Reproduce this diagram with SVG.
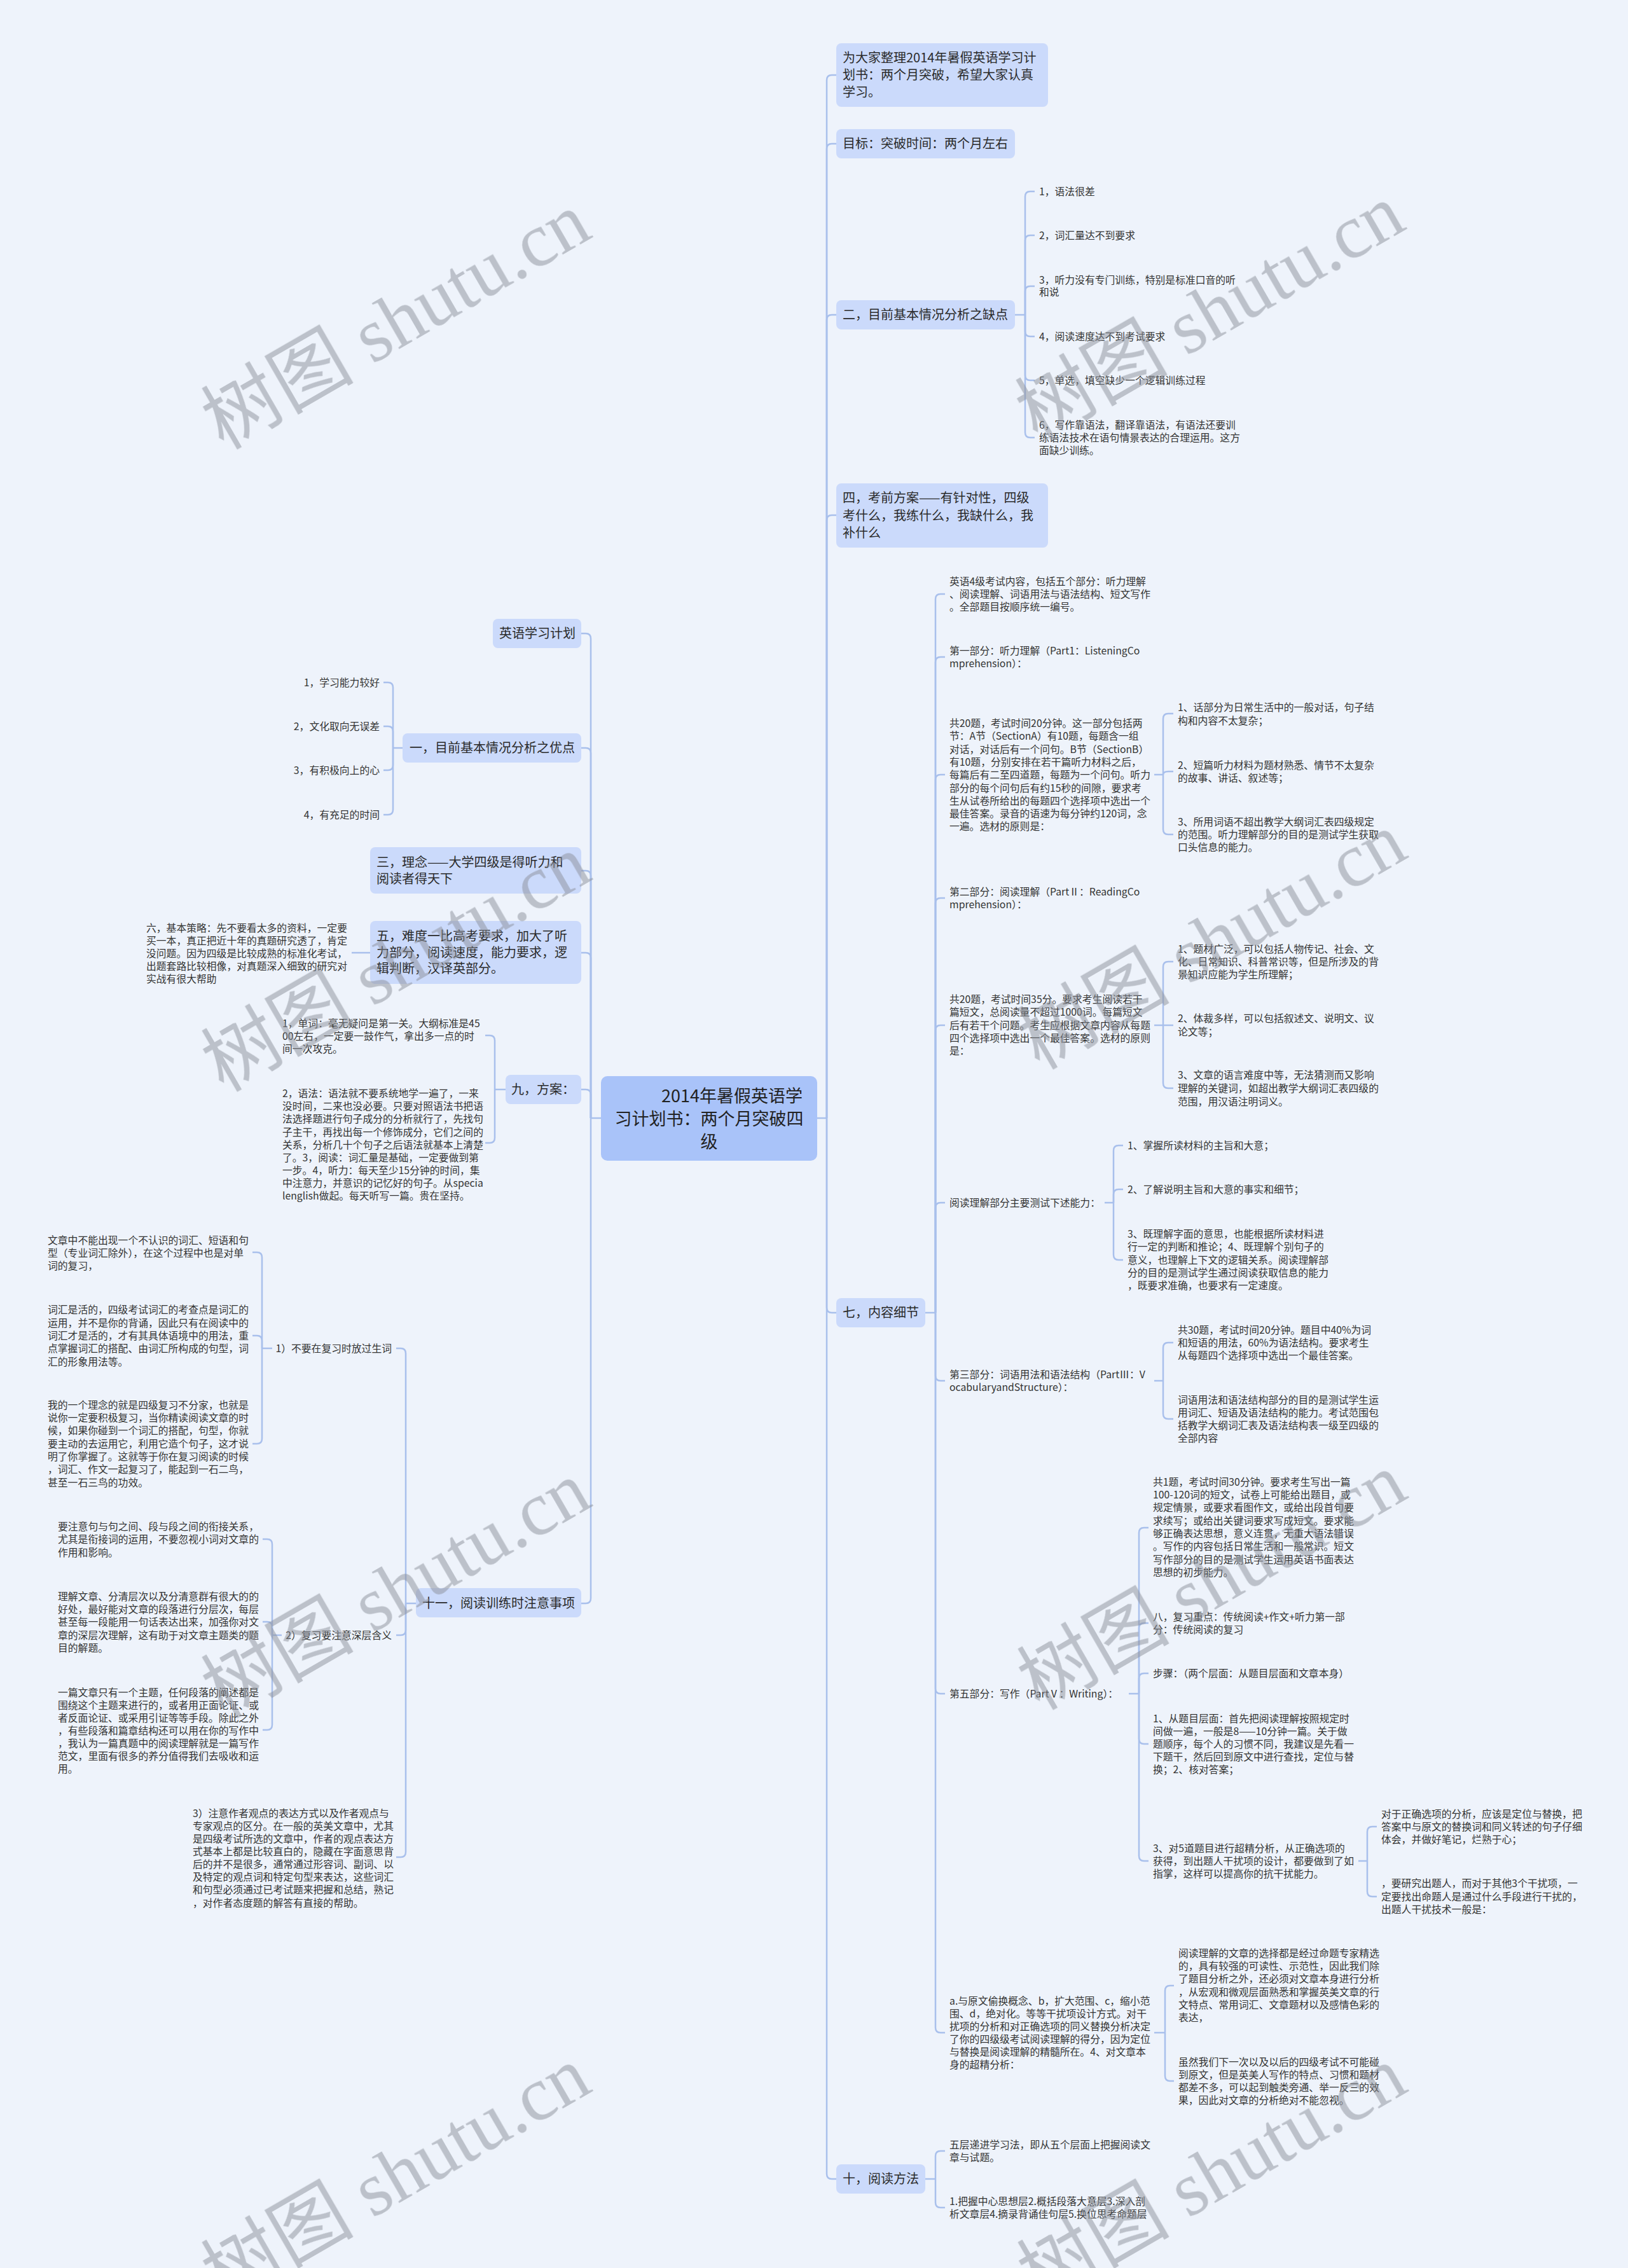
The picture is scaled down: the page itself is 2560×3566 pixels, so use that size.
<svg xmlns="http://www.w3.org/2000/svg" width="2560" height="3566" viewBox="0 0 2560 3566">
<style>
.t{font-family:"Noto Sans CJK SC","Noto Sans",sans-serif;fill:#333333}
.s{font-size:15.8px}
.m{font-size:20px;fill:#2a2a2a}
.big{font-size:27px;fill:#222222}
.n1{fill:#cbdafb}
.n0{fill:#a9c3f9}
.cn{fill:none;stroke:#a9c0ec;stroke-width:2.5}
.wm{font-family:"Liberation Serif","Noto Sans CJK SC",serif;font-size:120px;fill:#8a8f99;opacity:0.5}
</style>
<rect width="2560" height="3566" fill="#eef3fb"/>

<g id="connectors" class="cn">
<!-- right trunk -->
<path d="M1285,1758 H1300"/>
<path d="M1300,1758 V126 Q1300,118 1308,118 H1315"/>
<path d="M1300,1758 V234 Q1300,226 1308,226 H1315"/>
<path d="M1300,1758 V503 Q1300,495 1308,495 H1315"/>
<path d="M1300,1758 V818 Q1300,810 1308,810 H1315"/>
<path d="M1300,1758 V2056 Q1300,2064 1308,2064 H1315"/>
<path d="M1300,1758 V3418 Q1300,3426 1308,3426 H1315"/>
<!-- 二 -->
<path d="M1596,495 H1612"/>
<path d="M1612,495 V309 Q1612,301 1620,301 H1627"/>
<path d="M1612,495 V378 Q1612,370 1620,370 H1627"/>
<path d="M1612,495 V458 Q1612,450 1620,450 H1627"/>
<path d="M1612,495 V521 Q1612,529 1620,529 H1627"/>
<path d="M1612,495 V590 Q1612,598 1620,598 H1627"/>
<path d="M1612,495 V680 Q1612,688 1620,688 H1627"/>
<!-- 七 -->
<path d="M1455,2064 H1471"/>
<path d="M1471,2064 V942 Q1471,934 1479,934 H1486"/>
<path d="M1471,2064 V1041 Q1471,1033 1479,1033 H1486"/>
<path d="M1471,2064 V1226 Q1471,1218 1479,1218 H1486"/>
<path d="M1471,2064 V1420 Q1471,1412 1479,1412 H1486"/>
<path d="M1471,2064 V1620 Q1471,1612 1479,1612 H1486"/>
<path d="M1471,2064 V1899 Q1471,1891 1479,1891 H1486"/>
<path d="M1471,2064 V2163 Q1471,2171 1479,2171 H1486"/>
<path d="M1471,2064 V2655 Q1471,2663 1479,2663 H1486"/>
<path d="M1471,2064 V3188 Q1471,3196 1479,3196 H1486"/>
<!-- c listening -->
<path d="M1815,1218 H1829"/>
<path d="M1829,1218 V1130 Q1829,1122 1837,1122 H1845"/>
<path d="M1829,1218 Q1829,1213 1837,1213 H1845"/>
<path d="M1829,1218 V1304 Q1829,1312 1837,1312 H1845"/>
<!-- e reading -->
<path d="M1815,1612 H1829"/>
<path d="M1829,1612 V1520 Q1829,1512 1837,1512 H1845"/>
<path d="M1829,1612 H1845"/>
<path d="M1829,1612 V1703 Q1829,1711 1837,1711 H1845"/>
<!-- f abilities -->
<path d="M1737,1891 H1751"/>
<path d="M1751,1891 V1809 Q1751,1801 1759,1801 H1766"/>
<path d="M1751,1891 V1878 Q1751,1870 1759,1870 H1766"/>
<path d="M1751,1891 V1973 Q1751,1981 1759,1981 H1766"/>
<!-- g vocabulary -->
<path d="M1815,2171 H1829"/>
<path d="M1829,2171 V2119 Q1829,2111 1837,2111 H1845"/>
<path d="M1829,2171 V2223 Q1829,2231 1837,2231 H1845"/>
<!-- h writing -->
<path d="M1775,2663 H1791"/>
<path d="M1791,2663 V2410 Q1791,2402 1799,2402 H1806"/>
<path d="M1791,2663 V2560 Q1791,2552 1799,2552 H1806"/>
<path d="M1791,2663 V2639 Q1791,2631 1799,2631 H1806"/>
<path d="M1791,2663 V2734 Q1791,2742 1799,2742 H1806"/>
<path d="M1791,2663 V2918 Q1791,2926 1799,2926 H1806"/>
<!-- h5 -->
<path d="M2136,2926 H2150"/>
<path d="M2150,2926 V2880 Q2150,2872 2158,2872 H2165"/>
<path d="M2150,2926 V2974 Q2150,2982 2158,2982 H2165"/>
<!-- i -->
<path d="M1815,3196 H1832"/>
<path d="M1832,3196 V3130 Q1832,3122 1840,3122 H1846"/>
<path d="M1832,3196 V3264 Q1832,3272 1840,3272 H1846"/>
<!-- 十 -->
<path d="M1455,3426 H1471"/>
<path d="M1471,3426 V3390 Q1471,3382 1479,3382 H1486"/>
<path d="M1471,3426 V3463 Q1471,3471 1479,3471 H1486"/>
<!-- left trunk -->
<path d="M945,1758 H929"/>
<path d="M929,1758 V1004 Q929,996 921,996 H914"/>
<path d="M929,1758 V1184 Q929,1176 921,1176 H914"/>
<path d="M929,1758 V1377 Q929,1369 921,1369 H914"/>
<path d="M929,1758 V1506 Q929,1498 921,1498 H914"/>
<path d="M929,1758 V1721 Q929,1713 921,1713 H914"/>
<path d="M929,1758 V2513 Q929,2521 921,2521 H914"/>
<!-- 一 -->
<path d="M633,1176 H618"/>
<path d="M618,1176 V1081 Q618,1073 610,1073 H603"/>
<path d="M618,1176 V1150 Q618,1142 610,1142 H603"/>
<path d="M618,1176 V1203 Q618,1211 610,1211 H603"/>
<path d="M618,1176 V1273 Q618,1281 610,1281 H603"/>
<!-- 五 -> 六 -->
<path d="M582,1498 H553"/>
<!-- 九 -->
<path d="M795,1713 H778"/>
<path d="M778,1713 V1636 Q778,1628 770,1628 H763"/>
<path d="M778,1713 V1789 Q778,1797 770,1797 H763"/>
<!-- 十一 -->
<path d="M654,2521 H638"/>
<path d="M638,2521 V2128 Q638,2120 630,2120 H623"/>
<path d="M638,2521 V2563 Q638,2571 630,2571 H623"/>
<path d="M638,2521 V2912 Q638,2920 630,2920 H623"/>
<!-- 1) -->
<path d="M428,2120 H412"/>
<path d="M412,2120 V1977 Q412,1969 404,1969 H397"/>
<path d="M412,2120 V2108 Q412,2100 404,2100 H397"/>
<path d="M412,2120 V2262 Q412,2270 404,2270 H397"/>
<!-- 2) -->
<path d="M443,2571 H428"/>
<path d="M428,2571 V2428 Q428,2420 420,2420 H413"/>
<path d="M428,2571 V2558 Q428,2550 420,2550 H413"/>
<path d="M428,2571 V2712 Q428,2720 420,2720 H413"/>
</g>

<g id="root">
<rect class="n0" x="945" y="1692" width="340" height="133" rx="10"/>
<text class="t big"><tspan x="1262" y="1733" text-anchor="end">2014年暑假英语学</tspan><tspan x="1115" y="1769" text-anchor="middle">习计划书：两个月突破四</tspan><tspan x="1115" y="1805" text-anchor="middle">级</tspan></text>
</g>

<g id="r1">
<rect class="n1" x="1315" y="68" width="333" height="100" rx="8"/>
<text class="t m"><tspan x="1325" y="98">为大家整理2014年暑假英语学习计</tspan><tspan x="1325" y="125">划书：两个月突破，希望大家认真</tspan><tspan x="1325" y="152">学习。</tspan></text>
</g>
<g id="r2">
<rect class="n1" x="1315" y="203" width="281" height="46" rx="8"/>
<text class="t m" x="1325" y="233">目标：突破时间：两个月左右</text>
</g>
<g id="r3">
<rect class="n1" x="1315" y="472" width="281" height="46" rx="8"/>
<text class="t m" x="1325" y="502">二，目前基本情况分析之缺点</text>
</g>
<g id="r3-children" class="t s">
<text x="1634" y="307">1，语法很差</text>
<text x="1634" y="376">2，词汇量达不到要求</text>
<text><tspan x="1634" y="446">3，听力没有专门训练，特别是标准口音的听</tspan><tspan x="1634" y="465">和说</tspan></text>
<text x="1634" y="535">4，阅读速度达不到考试要求</text>
<text x="1634" y="604">5，单选，填空缺少一个逻辑训练过程</text>
<text><tspan x="1634" y="674">6，写作靠语法，翻译靠语法，有语法还要训</tspan><tspan x="1634" y="694">练语法技术在语句情景表达的合理运用。这方</tspan><tspan x="1634" y="714">面缺少训练。</tspan></text>
</g>
<g id="r4">
<rect class="n1" x="1315" y="760" width="333" height="101" rx="8"/>
<text class="t m"><tspan x="1325" y="790">四，考前方案——有针对性，四级</tspan><tspan x="1325" y="818">考什么，我练什么，我缺什么，我</tspan><tspan x="1325" y="845">补什么</tspan></text>
</g>
<g id="r5">
<rect class="n1" x="1315" y="2041" width="140" height="46" rx="8"/>
<text class="t m" x="1325" y="2071">七，内容细节</text>
</g>
<g id="r5-children" class="t s">
<text><tspan x="1493" y="920">英语4级考试内容，包括五个部分：听力理解</tspan><tspan x="1493" y="940">、阅读理解、词语用法与语法结构、短文写作</tspan><tspan x="1493" y="960">。全部题目按顺序统一编号。</tspan></text>
<text><tspan x="1493" y="1029">第一部分：听力理解（Part1：ListeningCo</tspan><tspan x="1493" y="1049">mprehension）：</tspan></text>
<text><tspan x="1493" y="1143">共20题，考试时间20分钟。这一部分包括两</tspan><tspan x="1493" y="1163">节：A节（SectionA）有10题，每题含一组</tspan><tspan x="1493" y="1184">对话，对话后有一个问句。B节（SectionB）</tspan><tspan x="1493" y="1204">有10题，分别安排在若干篇听力材料之后，</tspan><tspan x="1493" y="1224">每篇后有二至四道题，每题为一个问句。听力</tspan><tspan x="1493" y="1245">部分的每个问句后有约15秒的间隙，要求考</tspan><tspan x="1493" y="1265">生从试卷所给出的每题四个选择项中选出一个</tspan><tspan x="1493" y="1285">最佳答案。录音的语速为每分钟约120词，念</tspan><tspan x="1493" y="1305">一遍。选材的原则是：</tspan></text>
<text><tspan x="1852" y="1118">1、话部分为日常生活中的一般对话，句子结</tspan><tspan x="1852" y="1139">构和内容不太复杂；</tspan></text>
<text><tspan x="1852" y="1209">2、短篇听力材料为题材熟悉、情节不太复杂</tspan><tspan x="1852" y="1229">的故事、讲话、叙述等；</tspan></text>
<text><tspan x="1852" y="1298">3、所用词语不超出教学大纲词汇表四级规定</tspan><tspan x="1852" y="1318">的范围。听力理解部分的目的是测试学生获取</tspan><tspan x="1852" y="1338">口头信息的能力。</tspan></text>
<text><tspan x="1493" y="1408">第二部分：阅读理解（PartⅡ：ReadingCo</tspan><tspan x="1493" y="1428">mprehension）：</tspan></text>
<text><tspan x="1493" y="1577">共20题，考试时间35分。要求考生阅读若干</tspan><tspan x="1493" y="1597">篇短文，总阅读量不超过1000词。每篇短文</tspan><tspan x="1493" y="1618">后有若干个问题。考生应根据文章内容从每题</tspan><tspan x="1493" y="1638">四个选择项中选出一个最佳答案。选材的原则</tspan><tspan x="1493" y="1658">是：</tspan></text>
<text><tspan x="1852" y="1498">1、题材广泛，可以包括人物传记、社会、文</tspan><tspan x="1852" y="1518">化、日常知识、科普常识等，但是所涉及的背</tspan><tspan x="1852" y="1538">景知识应能为学生所理解；</tspan></text>
<text><tspan x="1852" y="1607">2、体裁多样，可以包括叙述文、说明文、议</tspan><tspan x="1852" y="1628">论文等；</tspan></text>
<text><tspan x="1852" y="1696">3、文章的语言难度中等，无法猜测而又影响</tspan><tspan x="1852" y="1717">理解的关键词，如超出教学大纲词汇表四级的</tspan><tspan x="1852" y="1738">范围，用汉语注明词义。</tspan></text>
<text x="1493" y="1897">阅读理解部分主要测试下述能力：</text>
<text x="1773" y="1807">1、掌握所读材料的主旨和大意；</text>
<text x="1773" y="1876">2、了解说明主旨和大意的事实和细节；</text>
<text><tspan x="1773" y="1946">3、既理解字面的意思，也能根据所读材料进</tspan><tspan x="1773" y="1966">行一定的判断和推论；4、既理解个别句子的</tspan><tspan x="1773" y="1987">意义，也理解上下文的逻辑关系。阅读理解部</tspan><tspan x="1773" y="2007">分的目的是测试学生通过阅读获取信息的能力</tspan><tspan x="1773" y="2027">，既要求准确，也要求有一定速度。</tspan></text>
<text><tspan x="1493" y="2167">第三部分：词语用法和语法结构（PartⅢ：V</tspan><tspan x="1493" y="2187">ocabularyandStructure）：</tspan></text>
<text><tspan x="1852" y="2097">共30题，考试时间20分钟。题目中40%为词</tspan><tspan x="1852" y="2117">和短语的用法，60%为语法结构。要求考生</tspan><tspan x="1852" y="2137">从每题四个选择项中选出一个最佳答案。</tspan></text>
<text><tspan x="1852" y="2207">词语用法和语法结构部分的目的是测试学生运</tspan><tspan x="1852" y="2227">用词汇、短语及语法结构的能力。考试范围包</tspan><tspan x="1852" y="2247">括教学大纲词汇表及语法结构表一级至四级的</tspan><tspan x="1852" y="2267">全部内容</tspan></text>
<text x="1493" y="2669">第五部分：写作（PartⅤ：Writing）：</text>
<text><tspan x="1813" y="2336">共1题，考试时间30分钟。要求考生写出一篇</tspan><tspan x="1813" y="2356">100-120词的短文，试卷上可能给出题目，或</tspan><tspan x="1813" y="2376">规定情景，或要求看图作文，或给出段首句要</tspan><tspan x="1813" y="2397">求续写；或给出关键词要求写成短文。要求能</tspan><tspan x="1813" y="2417">够正确表达思想，意义连贯，无重大语法错误</tspan><tspan x="1813" y="2437">。写作的内容包括日常生活和一般常识。短文</tspan><tspan x="1813" y="2458">写作部分的目的是测试学生运用英语书面表达</tspan><tspan x="1813" y="2478">思想的初步能力。</tspan></text>
<text><tspan x="1813" y="2548">八，复习重点：传统阅读+作文+听力第一部</tspan><tspan x="1813" y="2568">分：传统阅读的复习</tspan></text>
<text x="1813" y="2637">步骤：（两个层面：从题目层面和文章本身）</text>
<text><tspan x="1813" y="2708">1、从题目层面：首先把阅读理解按照规定时</tspan><tspan x="1813" y="2728">间做一遍，一般是8——10分钟一篇。关于做</tspan><tspan x="1813" y="2748">题顺序，每个人的习惯不同，我建议是先看一</tspan><tspan x="1813" y="2768">下题干，然后回到原文中进行查找，定位与替</tspan><tspan x="1813" y="2788">换；2、核对答案；</tspan></text>
<text><tspan x="1813" y="2912">3、对5道题目进行超精分析，从正确选项的</tspan><tspan x="1813" y="2932">获得，到出题人干扰项的设计，都要做到了如</tspan><tspan x="1813" y="2952">指掌，这样可以提高你的抗干扰能力。</tspan></text>
<text><tspan x="2172" y="2858">对于正确选项的分析，应该是定位与替换，把</tspan><tspan x="2172" y="2878">答案中与原文的替换词和同义转述的句子仔细</tspan><tspan x="2172" y="2898">体会，并做好笔记，烂熟于心；</tspan></text>
<text><tspan x="2172" y="2967">，要研究出题人，而对于其他3个干扰项，一</tspan><tspan x="2172" y="2988">定要找出命题人是通过什么手段进行干扰的，</tspan><tspan x="2172" y="3008">出题人干扰技术一般是：</tspan></text>
<text><tspan x="1493" y="3152">a.与原文偷换概念、b，扩大范围、c，缩小范</tspan><tspan x="1493" y="3172">围、d，绝对化。等等干扰项设计方式。对干</tspan><tspan x="1493" y="3192">扰项的分析和对正确选项的同义替换分析决定</tspan><tspan x="1493" y="3212">了你的四级级考试阅读理解的得分，因为定位</tspan><tspan x="1493" y="3232">与替换是阅读理解的精髓所在。4、对文章本</tspan><tspan x="1493" y="3252">身的超精分析：</tspan></text>
<text><tspan x="1853" y="3077">阅读理解的文章的选择都是经过命题专家精选</tspan><tspan x="1853" y="3097">的，具有较强的可读性、示范性，因此我们除</tspan><tspan x="1853" y="3117">了题目分析之外，还必须对文章本身进行分析</tspan><tspan x="1853" y="3138">，从宏观和微观层面熟悉和掌握英美文章的行</tspan><tspan x="1853" y="3158">文特点、常用词汇、文章题材以及感情色彩的</tspan><tspan x="1853" y="3178">表达，</tspan></text>
<text><tspan x="1853" y="3248">虽然我们下一次以及以后的四级考试不可能碰</tspan><tspan x="1853" y="3268">到原文，但是英美人写作的特点、习惯和题材</tspan><tspan x="1853" y="3288">都差不多，可以起到触类旁通、举一反三的效</tspan><tspan x="1853" y="3308">果，因此对文章的分析绝对不能忽视。</tspan></text>
</g>
<g id="r6">
<rect class="n1" x="1315" y="3403" width="140" height="46" rx="8"/>
<text class="t m" x="1325" y="3433">十，阅读方法</text>
</g>
<g id="r6-children" class="t s">
<text><tspan x="1493" y="3378">五层递进学习法，即从五个层面上把握阅读文</tspan><tspan x="1493" y="3398">章与试题。</tspan></text>
<text><tspan x="1493" y="3467">1.把握中心思想层2.概括段落大意层3.深入剖</tspan><tspan x="1493" y="3487">析文章层4.摘录背诵佳句层5.换位思考命题层</tspan></text>
</g>

<g id="l1">
<rect class="n1" x="775" y="973" width="139" height="46" rx="8"/>
<text class="t m" x="785" y="1003">英语学习计划</text>
</g>
<g id="l2">
<rect class="n1" x="633" y="1153" width="281" height="46" rx="8"/>
<text class="t m" x="644" y="1183">一，目前基本情况分析之优点</text>
</g>
<g id="l2-children" class="t s" text-anchor="end">
<text x="597" y="1079">1，学习能力较好</text>
<text x="597" y="1148">2，文化取向无误差</text>
<text x="597" y="1217">3，有积极向上的心</text>
<text x="597" y="1287">4，有充足的时间</text>
</g>
<g id="l3">
<rect class="n1" x="582" y="1332" width="332" height="73" rx="8"/>
<text class="t m"><tspan x="592" y="1363">三，理念——大学四级是得听力和</tspan><tspan x="592" y="1389">阅读者得天下</tspan></text>
</g>
<g id="l4">
<rect class="n1" x="582" y="1448" width="332" height="99" rx="8"/>
<text class="t m"><tspan x="592" y="1479">五，难度一比高考要求，加大了听</tspan><tspan x="592" y="1505">力部分，阅读速度，能力要求，逻</tspan><tspan x="592" y="1530">辑判断，汉译英部分。</tspan></text>
</g>
<g id="l4-child" class="t s">
<text><tspan x="230" y="1465">六，基本策略：先不要看太多的资料，一定要</tspan><tspan x="230" y="1485">买一本，真正把近十年的真题研究透了，肯定</tspan><tspan x="230" y="1505">没问题。因为四级是比较成熟的标准化考试，</tspan><tspan x="230" y="1525">出题套路比较相像，对真题深入细致的研究对</tspan><tspan x="230" y="1545">实战有很大帮助</tspan></text>
</g>
<g id="l5">
<rect class="n1" x="795" y="1690" width="119" height="46" rx="8"/>
<text class="t m" x="804" y="1720">九，方案：</text>
</g>
<g id="l5-children" class="t s">
<text><tspan x="444" y="1615">1，单词：毫无疑问是第一关。大纲标准是45</tspan><tspan x="444" y="1635">00左右，一定要一鼓作气，拿出多一点的时</tspan><tspan x="444" y="1655">间一次攻克。</tspan></text>
<text><tspan x="444" y="1725">2，语法：语法就不要系统地学一遍了，一来</tspan><tspan x="444" y="1745">没时间，二来也没必要。只要对照语法书把语</tspan><tspan x="444" y="1765">法选择题进行句子成分的分析就行了，先找句</tspan><tspan x="444" y="1786">子主干，再找出每一个修饰成分，它们之间的</tspan><tspan x="444" y="1806">关系，分析几十个句子之后语法就基本上清楚</tspan><tspan x="444" y="1826">了。3，阅读：词汇量是基础，一定要做到第</tspan><tspan x="444" y="1846">一步。4，听力：每天至少15分钟的时间，集</tspan><tspan x="444" y="1866">中注意力，并意识的记忆好的句子。从specia</tspan><tspan x="444" y="1886">lenglish做起。每天听写一篇。贵在坚持。</tspan></text>
</g>
<g id="l6">
<rect class="n1" x="654" y="2497" width="260" height="46" rx="8"/>
<text class="t m" x="664" y="2528">十一，阅读训练时注意事项</text>
</g>
<g id="l6-children" class="t s">
<text x="616" y="2126" text-anchor="end">1）不要在复习时放过生词</text>
<text x="616" y="2577" text-anchor="end">2）复习要注意深层含义</text>
<text><tspan x="303" y="2857">3）注意作者观点的表达方式以及作者观点与</tspan><tspan x="303" y="2877">专家观点的区分。在一般的英美文章中，尤其</tspan><tspan x="303" y="2897">是四级考试所选的文章中，作者的观点表达方</tspan><tspan x="303" y="2917">式基本上都是比较直白的，隐藏在字面意思背</tspan><tspan x="303" y="2937">后的并不是很多，通常通过形容词、副词、以</tspan><tspan x="303" y="2957">及特定的观点词和特定句型来表达，这些词汇</tspan><tspan x="303" y="2977">和句型必须通过已考试题来把握和总结，熟记</tspan><tspan x="303" y="2998">，对作者态度题的解答有直接的帮助。</tspan></text>
<text><tspan x="75" y="1956">文章中不能出现一个不认识的词汇、短语和句</tspan><tspan x="75" y="1976">型（专业词汇除外），在这个过程中也是对单</tspan><tspan x="75" y="1996">词的复习，</tspan></text>
<text><tspan x="75" y="2065">词汇是活的，四级考试词汇的考查点是词汇的</tspan><tspan x="75" y="2086">运用，并不是你的背诵，因此只有在阅读中的</tspan><tspan x="75" y="2106">词汇才是活的，才有其具体语境中的用法，重</tspan><tspan x="75" y="2126">点掌握词汇的搭配、由词汇所构成的句型，词</tspan><tspan x="75" y="2147">汇的形象用法等。</tspan></text>
<text><tspan x="75" y="2215">我的一个理念的就是四级复习不分家，也就是</tspan><tspan x="75" y="2235">说你一定要积极复习，当你精读阅读文章的时</tspan><tspan x="75" y="2255">候，如果你碰到一个词汇的搭配，句型，你就</tspan><tspan x="75" y="2276">要主动的去运用它，利用它造个句子，这才说</tspan><tspan x="75" y="2296">明了你掌握了。这就等于你在复习阅读的时候</tspan><tspan x="75" y="2316">，词汇、作文一起复习了，能起到一石二鸟，</tspan><tspan x="75" y="2337">甚至一石三鸟的功效。</tspan></text>
<text><tspan x="91" y="2406">要注意句与句之间、段与段之间的衔接关系，</tspan><tspan x="91" y="2426">尤其是衔接词的运用，不要忽视小词对文章的</tspan><tspan x="91" y="2447">作用和影响。</tspan></text>
<text><tspan x="91" y="2516">理解文章、分清层次以及分清意群有很大的的</tspan><tspan x="91" y="2536">好处，最好能对文章的段落进行分层次，每层</tspan><tspan x="91" y="2556">甚至每一段能用一句话表达出来，加强你对文</tspan><tspan x="91" y="2577">章的深层次理解，这有助于对文章主题类的题</tspan><tspan x="91" y="2597">目的解题。</tspan></text>
<text><tspan x="91" y="2667">一篇文章只有一个主题，任何段落的阐述都是</tspan><tspan x="91" y="2687">围绕这个主题来进行的，或者用正面论证、或</tspan><tspan x="91" y="2707">者反面论证、或采用引证等等手段。除此之外</tspan><tspan x="91" y="2727">，有些段落和篇章结构还可以用在你的写作中</tspan><tspan x="91" y="2747">，我认为一篇真题中的阅读理解就是一篇写作</tspan><tspan x="91" y="2767">范文，里面有很多的养分值得我们去吸收和运</tspan><tspan x="91" y="2787">用。</tspan></text>
</g>

<g id="watermark" class="wm" text-anchor="middle">
<text transform="translate(643,540) rotate(-30)">树图 shutu.cn</text>
<text transform="translate(1923,527) rotate(-30)">树图 shutu.cn</text>
<text transform="translate(643,1550) rotate(-30)">树图 shutu.cn</text>
<text transform="translate(1926,1515) rotate(-30)">树图 shutu.cn</text>
<text transform="translate(643,2535) rotate(-30)">树图 shutu.cn</text>
<text transform="translate(1926,2522) rotate(-30)">树图 shutu.cn</text>
<text transform="translate(643,3455) rotate(-30)">树图 shutu.cn</text>
<text transform="translate(1926,3455) rotate(-30)">树图 shutu.cn</text>
</g>
</svg>
